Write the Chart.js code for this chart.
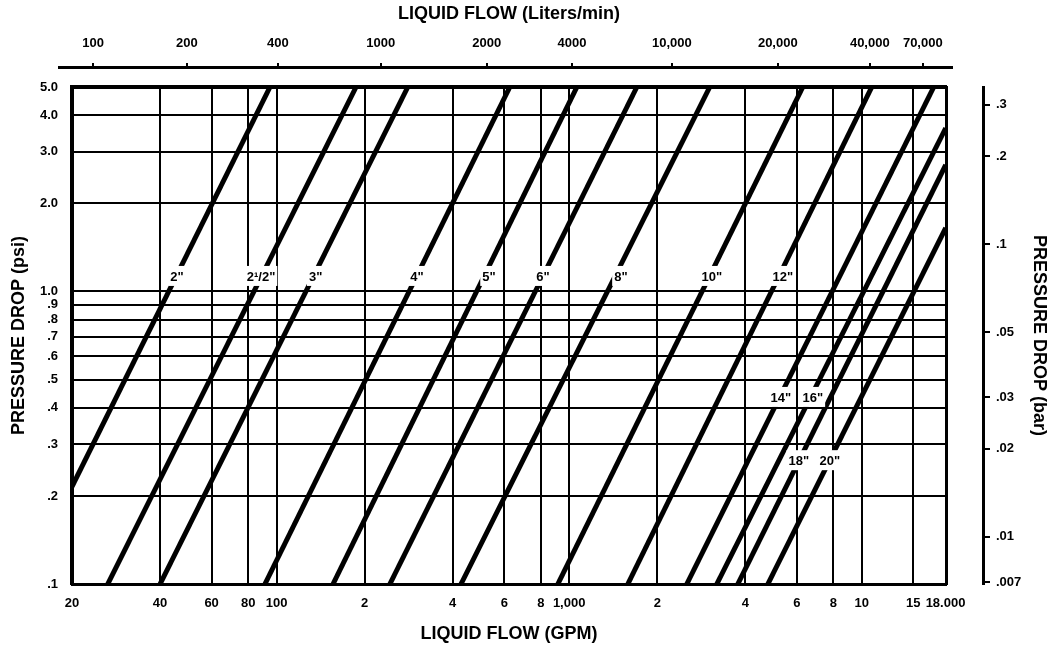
<!DOCTYPE html>
<html>
<head>
<meta charset="utf-8">
<script src="https://cdn.jsdelivr.net/npm/chart.js@4.4.1/dist/chart.umd.min.js"></script>
<style>
html,body{margin:0;padding:0;background:#fff;}
#wrap{width:1052px;height:647px;position:relative;}
</style>
</head>
<body>
<div id="wrap"><canvas id="c" width="1052" height="647"></canvas></div>
<script>
// ---- axis ranges ----
const GPM_MIN = 20, GPM_MAX = 19400;
const PSI_MIN = 0.1, PSI_MAX = 5.0;
const PSI_TO_BAR = 0.0689476;

// ---- bottom axis (GPM) ----
const flowTicksGpm = [20, 40, 60, 80, 100, 200, 400, 600, 800, 1000, 2000, 4000, 6000, 8000, 10000, 15000, 18000];
const flowTickLabels = ['20', '40', '60', '80', '100', '2', '4', '6', '8', '1,000', '2', '4', '6', '8', '10', '15', '     18.000'];

// ---- top axis (Liters/min), tick positions as drawn along the GPM scale ----
const literTickLabels = ['100', '200', '400', '1000', '2000', '4000', '10,000', '20,000', '40,000', '70,000'];
const literTickPosGpm = [23.6, 49.4, 101, 227, 523, 1022, 2244, 5164, 10650, 16160];

// ---- left axis (psi) ----
const psiTicks = [0.1, 0.2, 0.3, 0.4, 0.5, 0.6, 0.7, 0.8, 0.9, 1.0, 2.0, 3.0, 4.0, 5.0];
const psiTickLabels = ['.1', '.2', '.3', '.4', '.5', '.6', '.7', '.8', '.9', '1.0', '2.0', '3.0', '4.0', '5.0'];

// ---- right axis (bar) ----
const barTicks = [0.007, 0.01, 0.02, 0.03, 0.05, 0.1, 0.2, 0.3];
const barTickLabels = ['.007', '.01', '.02', '.03', '.05', '.1', '.2', '.3'];

// ---- pipe size lines (end points) ----
const pipeSizes = ['2"', '2\u00B9/2"', '3"', '4"', '5"', '6"', '8"', '10"', '12"', '14"', '16"', '18"', '20"'];
const pipeStartGpm = [20, 26.5, 40.0, 91.3, 156, 244, 427, 915, 1587, 2524, 3196, 3771, 4776];
const pipeStartPsi = [0.215, 0.1, 0.1, 0.1, 0.1, 0.1, 0.1, 0.1, 0.1, 0.1, 0.1, 0.1, 0.1];
const pipeEndGpm = [95, 187, 281, 627, 1063, 1704, 3024, 6288, 10820, 17620, 19360, 19360, 19360];
const pipeEndPsi = [5, 5, 5, 5, 5, 5, 5, 5, 5, 5, 3.62, 2.71, 1.65];

// ---- pipe label positions ----
const labelGpm = [45.7, 88.5, 136, 302, 532, 813, 1502, 3074, 5372, 5290, 6803, 6094, 7777];
const labelPsi = [1.13, 1.13, 1.13, 1.13, 1.13, 1.13, 1.13, 1.13, 1.13, 0.436, 0.436, 0.265, 0.265];

const FONT_FAMILY = '"Liberation Sans", Arial, Helvetica, sans-serif';
const tickFont = {family: FONT_FAMILY, size: 13, weight: 'bold'};
const titleFont = {family: FONT_FAMILY, size: 18, weight: 'bold'};

Chart.defaults.color = '#000';

const datasets = pipeSizes.map((name, i) => ({
  label: name,
  data: [{x: pipeStartGpm[i], y: pipeStartPsi[i]}, {x: pipeEndGpm[i], y: pipeEndPsi[i]}],
  borderColor: '#000',
  borderWidth: 5,
  borderCapStyle: 'butt',
  pointRadius: 0,
  fill: false,
  tension: 0,
  xAxisID: 'x',
  yAxisID: 'y'
}));

const pipeLabelPlugin = {
  id: 'pipeLabels',
  afterDatasetsDraw(chart) {
    const {ctx, scales} = chart;
    const xs = scales.x, ys = scales.y;
    ctx.save();
    ctx.font = 'bold 13px ' + FONT_FAMILY;
    ctx.textAlign = 'center';
    ctx.textBaseline = 'middle';
    pipeSizes.forEach((t, i) => {
      const px = xs.getPixelForValue(labelGpm[i]);
      const py = ys.getPixelForValue(labelPsi[i]);
      const w = ctx.measureText(t).width;
      ctx.fillStyle = '#fff';
      ctx.fillRect(px - w / 2 - 2, py - 10, w + 4, 20);
      ctx.fillStyle = '#000';
      ctx.fillText(t, px, py + 1);
    });
    ctx.restore();
  }
};

// the Liters/min axis rule runs a little past the plot on both sides
const topRulePlugin = {
  id: 'topRule',
  afterDraw(chart) {
    const s = chart.scales.xTop;
    const {ctx, chartArea} = chart;
    ctx.save();
    ctx.strokeStyle = '#000';
    ctx.lineWidth = 3;
    ctx.beginPath();
    ctx.moveTo(chartArea.left - 14, s.bottom - 0.5);
    ctx.lineTo(chartArea.right + 7, s.bottom - 0.5);
    ctx.stroke();
    ctx.restore();
  }
};

new Chart(document.getElementById('c'), {
  type: 'line',
  data: {datasets},
  plugins: [pipeLabelPlugin, topRulePlugin],
  options: {
    responsive: false,
    animation: false,
    devicePixelRatio: 1,
    layout: {padding: 0},
    plugins: {legend: {display: false}, tooltip: {enabled: false}},
    scales: {
      x: {
        type: 'logarithmic', position: 'bottom', min: GPM_MIN, max: GPM_MAX,
        afterBuildTicks: s => { s.ticks = flowTicksGpm.map(v => ({value: v})); },
        afterFit: s => { s.height = 63; },
        grid: {
          color: c => (c.tick && c.tick.value === 18000) ? 'rgba(0,0,0,0)' : '#000',
          lineWidth: 2, drawTicks: false
        },
        border: {display: true, color: '#000', width: 3},
        ticks: {autoSkip: false, maxRotation: 0, minRotation: 0, padding: 12, font: tickFont, color: '#000',
          callback: (v, i) => flowTickLabels[i]},
        title: {display: true, text: 'LIQUID FLOW (GPM)', font: titleFont, color: '#000', padding: {top: 0, bottom: 2}}
      },
      y: {
        type: 'logarithmic', position: 'left', min: PSI_MIN, max: PSI_MAX,
        afterBuildTicks: s => { s.ticks = psiTicks.map(v => ({value: v})); },
        afterFit: s => { s.width = 72; },
        grid: {color: '#000', lineWidth: 2, drawTicks: false},
        border: {display: true, color: '#000', width: 4},
        ticks: {autoSkip: false, padding: 14, font: tickFont, color: '#000',
          callback: (v, i) => psiTickLabels[i]},
        title: {display: true, text: 'PRESSURE DROP (psi)', font: titleFont, color: '#000', padding: {top: 8, bottom: 0}}
      },
      xSpacerTop: {
        axis: 'x', type: 'linear', position: 'top', weight: 1,
        afterFit: s => { s.height = 19; },
        grid: {display: false, drawTicks: false},
        border: {display: true, color: '#000', width: 4},
        ticks: {display: false}
      },
      xTop: {
        axis: 'x', type: 'logarithmic', position: 'top', weight: 2, min: GPM_MIN, max: GPM_MAX,
        afterBuildTicks: s => { s.ticks = literTickPosGpm.map(v => ({value: v})); },
        afterFit: s => { s.height = 68; },
        grid: {drawOnChartArea: false, drawTicks: true, tickLength: 5, lineWidth: 2, color: '#000'},
        border: {display: false},
        ticks: {autoSkip: false, maxRotation: 0, minRotation: 0, padding: 12, font: tickFont, color: '#000',
          callback: (v, i) => literTickLabels[i]},
        title: {display: true, text: 'LIQUID FLOW (Liters/min)', font: titleFont, color: '#000', padding: {top: 3, bottom: 0}}
      },
      ySpacer: {
        axis: 'y', type: 'linear', position: 'right', weight: 1,
        afterFit: s => { s.width = 37; },
        grid: {display: false, drawTicks: false},
        border: {display: true, color: '#000', width: 3},
        ticks: {display: false}
      },
      yBar: {
        axis: 'y', type: 'logarithmic', position: 'right', weight: 2,
        min: PSI_MIN * PSI_TO_BAR, max: PSI_MAX * PSI_TO_BAR,
        afterBuildTicks: s => { s.ticks = barTicks.map(v => ({value: v})); },
        afterFit: s => { s.width = 69; },
        grid: {drawOnChartArea: false, drawTicks: true, tickLength: 7, lineWidth: 2, color: '#000'},
        border: {display: true, color: '#000', width: 3},
        ticks: {autoSkip: false, padding: 6, font: tickFont, color: '#000',
          callback: (v, i) => barTickLabels[i]},
        title: {display: true, text: 'PRESSURE DROP (bar)', font: titleFont, color: '#000', padding: {top: 2, bottom: 0}}
      }
    }
  }
});
</script>
</body>
</html>
